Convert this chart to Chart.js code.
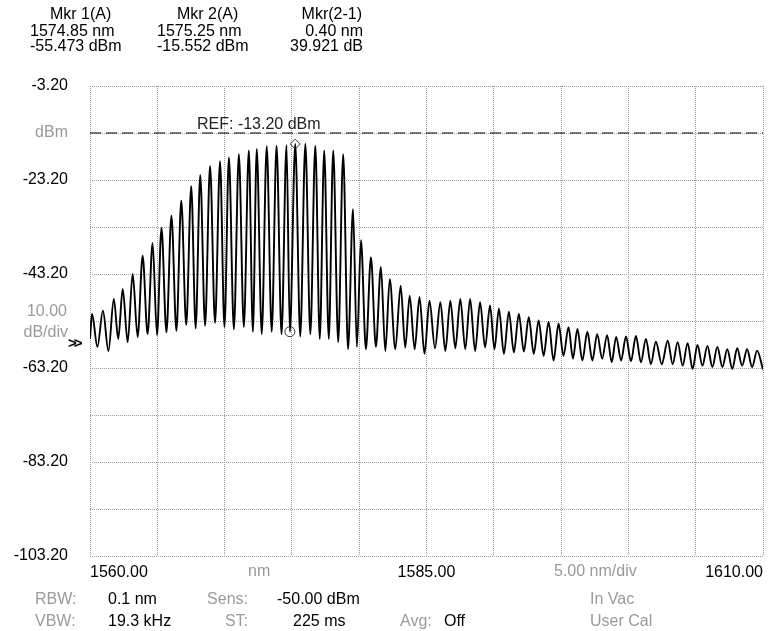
<!DOCTYPE html>
<html>
<head>
<meta charset="utf-8">
<script src="https://cdn.jsdelivr.net/npm/chart.js@4.4.0/dist/chart.umd.min.js"></script>
<style>
  body { margin: 0; background: #fff; }
  #wrap { position: relative; width: 770px; height: 631px; font-family: "Liberation Sans", Arial, sans-serif; font-size: 16px; color: #000; }
  #wrap canvas { position: absolute; left: 0; top: 0; }
  .t { position: absolute; white-space: nowrap; line-height: 16px; }
  .g { color: #9a9a9a; }
</style>
</head>
<body>
<div id="wrap">
  <canvas id="osa" width="770" height="631"></canvas>

  <!-- marker readout -->
  <div class="t" style="left:50px;top:6px">Mkr 1(A)</div>
  <div class="t" style="left:30px;top:23px">1574.85 nm</div>
  <div class="t" style="left:30px;top:38px">-55.473 dBm</div>
  <div class="t" style="left:177px;top:6px">Mkr 2(A)</div>
  <div class="t" style="left:157px;top:23px">1575.25 nm</div>
  <div class="t" style="left:157px;top:38px">-15.552 dBm</div>
  <div class="t" style="right:408px;top:6px">Mkr(2-1)</div>
  <div class="t" style="right:407px;top:23px">0.40 nm</div>
  <div class="t" style="right:407px;top:38px">39.921 dB</div>

  <!-- annotations on the grid -->
  <div class="t" style="left:197px;top:116px;color:#222">REF: -13.20 dBm</div>
  <div class="t g" style="right:703px;top:303px">10.00</div>
  <div class="t g" style="right:702px;top:324px">dB/div</div>
  <div class="t" style="left:68px;top:335px;font-size:15px;font-weight:bold;letter-spacing:-3px">&gt;&gt;</div>
  <div class="t g" style="left:248px;top:563px">nm</div>
  <div class="t g" style="left:554px;top:563px">5.00 nm/div</div>

  <!-- settings footer -->
  <div class="t g" style="left:35px;top:591px">RBW:</div>
  <div class="t" style="left:108px;top:591px">0.1 nm</div>
  <div class="t g" style="right:522px;top:591px">Sens:</div>
  <div class="t" style="left:277px;top:591px">-50.00 dBm</div>
  <div class="t g" style="left:590px;top:591px">In Vac</div>
  <div class="t g" style="left:35px;top:613px">VBW:</div>
  <div class="t" style="left:108px;top:613px">19.3 kHz</div>
  <div class="t g" style="right:522px;top:613px">ST:</div>
  <div class="t" style="left:293px;top:613px">225 ms</div>
  <div class="t g" style="left:400px;top:613px">Avg:</div>
  <div class="t" style="left:444px;top:613px">Off</div>
  <div class="t g" style="left:590px;top:613px">User Cal</div>
</div>

<script>
// Trace: alternating fringe peaks and troughs (nm, dBm)
const traceNm = [
  1560.00, 1560.15, 1560.55, 1560.96, 1561.37, 1561.77, 1562.10, 1562.43, 1562.80, 1563.17,
  1563.54, 1563.91, 1564.28, 1564.65, 1564.98, 1565.31, 1565.68, 1566.05, 1566.42, 1566.78,
  1567.15, 1567.52, 1567.85, 1568.19, 1568.55, 1568.92, 1569.29, 1569.66, 1569.99, 1570.32,
  1570.69, 1571.06, 1571.43, 1571.80, 1572.10, 1572.39, 1572.76, 1573.13, 1573.50, 1573.86,
  1574.23, 1574.60, 1574.85, 1575.25, 1575.62, 1576.00, 1576.37, 1576.74, 1577.07, 1577.40,
  1577.74, 1578.07, 1578.44, 1578.81, 1579.17, 1579.54, 1579.83, 1580.13, 1580.50, 1580.87,
  1581.24, 1581.61, 1581.94, 1582.27, 1582.68, 1583.08, 1583.42, 1583.75, 1584.12, 1584.48,
  1584.85, 1585.22, 1585.63, 1586.03, 1586.40, 1586.77, 1587.14, 1587.51, 1587.88, 1588.24,
  1588.61, 1588.98, 1589.35, 1589.72, 1590.05, 1590.38, 1590.75, 1591.12, 1591.49, 1591.86,
  1592.23, 1592.60, 1592.97, 1593.33, 1593.70, 1594.07, 1594.44, 1594.81, 1595.18, 1595.55,
  1595.88, 1596.21, 1596.58, 1596.95, 1597.32, 1597.68, 1598.05, 1598.42, 1598.76, 1599.09,
  1599.46, 1599.82, 1600.19, 1600.56, 1600.93, 1601.30, 1601.67, 1602.04, 1602.48, 1602.92,
  1603.29, 1603.66, 1604.03, 1604.40, 1604.77, 1605.13, 1605.50, 1605.87, 1606.24, 1606.61,
  1606.98, 1607.35, 1607.72, 1608.08, 1608.45, 1608.82, 1609.19, 1609.56, 1610.00
];
const traceDbm = [
  -57.0, -51.7, -58.7, -51.0, -59.6, -48.5, -57.0, -46.4, -57.7, -43.2,
  -56.6, -39.3, -56.0, -36.6, -56.2, -33.4, -55.6, -30.8, -55.3, -27.6,
  -54.0, -24.5, -54.8, -22.1, -54.2, -20.2, -53.6, -19.2, -54.5, -18.4,
  -55.0, -17.7, -54.5, -16.9, -55.5, -16.6, -56.0, -16.0, -55.5, -15.9,
  -56.0, -15.8, -55.47, -15.55, -56.5, -15.5, -56.0, -15.9, -57.0, -16.9,
  -57.0, -16.9, -57.7, -17.7, -59.2, -29.4, -58.7, -36.0, -59.2, -39.6,
  -58.7, -41.7, -59.6, -44.3, -59.2, -45.7, -58.9, -47.8, -59.2, -48.1,
  -60.2, -48.9, -59.0, -49.2, -59.6, -48.9, -59.0, -48.5, -59.2, -48.5,
  -59.6, -49.2, -58.8, -49.9, -59.2, -50.6, -60.2, -51.2, -59.9, -51.7,
  -59.7, -52.4, -60.2, -53.1, -60.6, -53.4, -61.6, -53.8, -60.6, -54.5,
  -61.2, -54.9, -61.6, -55.5, -61.6, -56.0, -61.2, -56.2, -62.0, -56.6,
  -61.6, -56.5, -61.8, -56.4, -62.0, -57.0, -62.4, -57.6, -62.4, -57.4,
  -62.4, -57.7, -62.7, -57.9, -63.4, -58.3, -62.7, -58.5, -63.0, -58.7,
  -63.0, -59.2, -63.4, -59.0, -62.7, -59.2, -63.0, -59.5, -63.5
];

// Markers and reference level
const markerNm = [1574.85, 1575.25];
const markerDbm = [-55.473, -15.552];
const refLevel = -13.2;

// Axis ticks (10 dB/div from -103.20, 5 nm/div from 1560)
const yTickLabels = ['-103.20', '', '-83.20', '', '-63.20', '', '-43.20', '', '-23.20', 'dBm', '-3.20'];
const xTickLabels = ['1560.00', '', '', '', '', '1585.00', '', '', '', '', '1610.00'];

const gridStyle = { color: '#9c9c9c', lineWidth: 1, drawTicks: false };
const gridBorder = { display: false, dash: [1, 1] };

new Chart(document.getElementById('osa'), {
  type: 'line',
  data: {
    datasets: [
      {
        data: traceNm.map((x, i) => ({ x: x, y: traceDbm[i] })),
        borderColor: '#000',
        borderWidth: 1.9,
        pointRadius: 0,
        cubicInterpolationMode: 'monotone'
      },
      {
        data: [{ x: 1560, y: refLevel }, { x: 1610, y: refLevel }],
        borderColor: '#000',
        borderWidth: 1,
        borderDash: [11, 5],
        pointRadius: 0
      },
      {
        type: 'scatter',
        data: markerNm.map((x, i) => ({ x: x, y: markerDbm[i] })),
        pointStyle: ['circle', 'rectRot'],
        pointRadius: 5,
        backgroundColor: 'rgba(255,255,255,0)',
        borderColor: '#333',
        borderWidth: 1
      }
    ]
  },
  options: {
    responsive: false,
    animation: false,
    events: [],
    layout: { padding: { top: 86, right: 2, left: 0, bottom: 0 } },
    plugins: { legend: { display: false }, tooltip: { enabled: false } },
    scales: {
      x: {
        type: 'linear',
        min: 1560,
        max: 1610,
        grid: gridStyle,
        border: gridBorder,
        afterFit: s => { s.height = 75; },
        afterBuildTicks: s => { s.ticks = xTickLabels.map((l, i) => ({ value: 1560 + i * 5 })); },
        ticks: {
          autoSkip: false,
          maxRotation: 0,
          align: 'inner',
          padding: 7,
          color: '#000',
          font: { family: 'Liberation Sans', size: 16 },
          callback: (v, i) => xTickLabels[i]
        }
      },
      y: {
        min: -103.2,
        max: -3.2,
        grid: gridStyle,
        border: gridBorder,
        afterFit: s => { s.width = 90; },
        afterBuildTicks: s => { s.ticks = yTickLabels.map((l, i) => ({ value: -103.2 + i * 10 })); },
        ticks: {
          autoSkip: false,
          padding: 22,
          color: ctx => (ctx.index === 9 ? '#9a9a9a' : '#000'),
          font: { family: 'Liberation Sans', size: 16 },
          callback: (v, i) => yTickLabels[i]
        }
      }
    }
  }
});
</script>
</body>
</html>
